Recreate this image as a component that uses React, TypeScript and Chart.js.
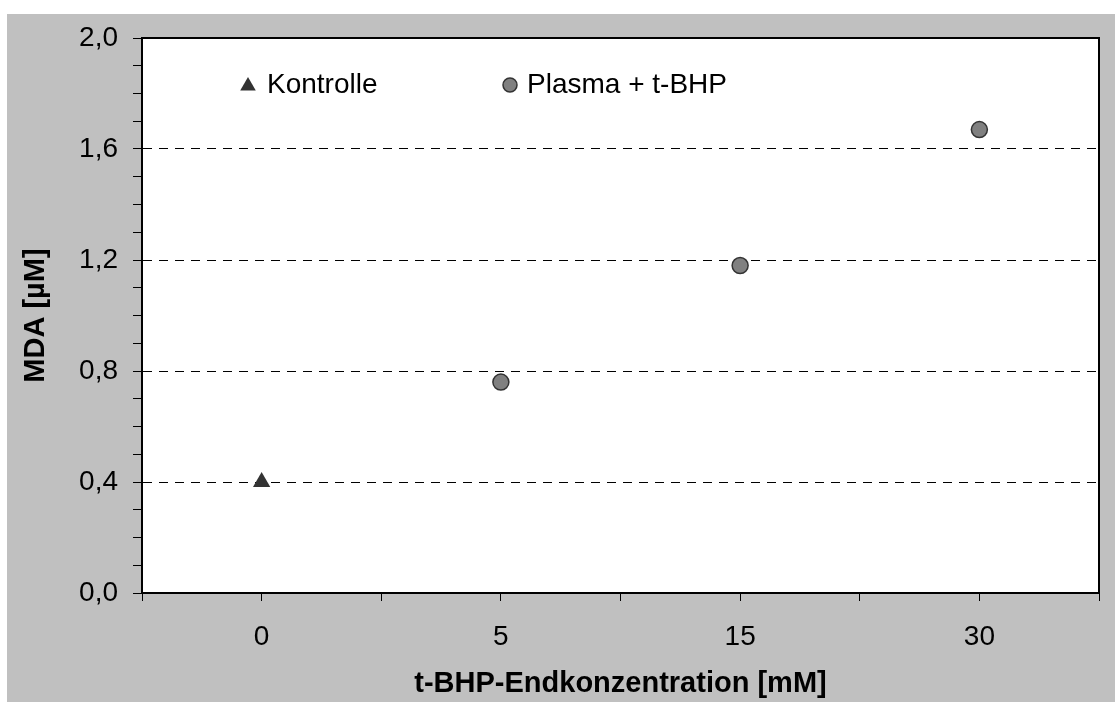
import React, { useEffect, useRef } from 'react';
import { Chart, registerables } from 'chart.js';

Chart.register(...registerables);

// ---- data ----
const categories = ['0', '5', '15', '30'];
const kontrolleX = [0];
const kontrolleValues = [0.4];
const plasmaX = [1, 2, 3];
const plasmaValues = [0.76, 1.18, 1.67];
const yTickLabels = ['0,0', '0,4', '0,8', '1,2', '1,6', '2,0'];
const seriesNames = ['Kontrolle', 'Plasma + t-BHP'];
const xTitle = 't-BHP-Endkonzentration [mM]';
const yTitle = 'MDA [µM]';

const FONT = '"Liberation Sans", Arial, sans-serif';

const bgPlugin = {
  id: 'bgPlugin',
  beforeDraw(chart: any) {
    const { ctx, chartArea, width, height } = chart;
    ctx.save();
    ctx.fillStyle = '#c0c0c0';
    ctx.fillRect(0, 0, width, height);
    ctx.fillStyle = '#ffffff';
    ctx.fillRect(chartArea.left, chartArea.top, chartArea.right - chartArea.left, chartArea.bottom - chartArea.top);
    ctx.restore();
  },
  afterDraw(chart: any) {
    const { ctx, chartArea } = chart;
    ctx.save();
    ctx.strokeStyle = '#000';
    ctx.lineWidth = 2;
    ctx.beginPath();
    ctx.moveTo(chartArea.left, chartArea.top);
    ctx.lineTo(chartArea.right, chartArea.top);
    ctx.lineTo(chartArea.right, chartArea.bottom);
    ctx.stroke();

    // legend inside plot area
    const ds = chart.data.datasets;
    const baseY = chartArea.top + 55;
    ctx.font = '28px ' + FONT;
    ctx.textBaseline = 'alphabetic';
    ctx.textAlign = 'left';

    // triangle marker
    const tx = chartArea.left + 106;
    const ty = chartArea.top + 48;
    const r = 9;
    ctx.fillStyle = ds[0].backgroundColor;
    ctx.beginPath();
    ctx.moveTo(tx, ty - r);
    ctx.lineTo(tx + Math.sin((2 * Math.PI) / 3) * r, ty + r / 2);
    ctx.lineTo(tx - Math.sin((2 * Math.PI) / 3) * r, ty + r / 2);
    ctx.closePath();
    ctx.fill();
    ctx.fillStyle = '#000';
    ctx.fillText(ds[0].label, chartArea.left + 125, baseY);

    // circle marker
    const cx = chartArea.left + 368;
    const cy = chartArea.top + 47;
    ctx.fillStyle = ds[1].backgroundColor;
    ctx.strokeStyle = ds[1].borderColor;
    ctx.lineWidth = 1.5;
    ctx.beginPath();
    ctx.arc(cx, cy, 7, 0, Math.PI * 2);
    ctx.fill();
    ctx.stroke();
    ctx.fillStyle = '#000';
    ctx.fillText(ds[1].label, chartArea.left + 385, baseY);
    ctx.restore();
  },
};

export default function App() {
  const canvasRef = useRef<HTMLCanvasElement | null>(null);

  useEffect(() => {
    if (!canvasRef.current) return;
    const chart = new Chart(canvasRef.current, {
      type: 'scatter',
      data: {
        datasets: [
          {
            label: seriesNames[0],
            data: kontrolleX.map((x, i) => ({ x, y: kontrolleValues[i] })),
            pointStyle: 'triangle',
            pointRadius: 10,
            backgroundColor: '#333333',
            borderColor: '#333333',
            borderWidth: 0,
          },
          {
            label: seriesNames[1],
            data: plasmaX.map((x, i) => ({ x, y: plasmaValues[i] })),
            pointStyle: 'circle',
            pointRadius: 8,
            backgroundColor: '#808080',
            borderColor: '#333333',
            borderWidth: 1.5,
          },
        ],
      },
      options: {
        responsive: false,
        animation: false,
        layout: { padding: { left: 0, top: 24, right: 16, bottom: 0 } },
        plugins: {
          legend: { display: false },
          tooltip: { enabled: false },
        },
        scales: {
          x: {
            type: 'linear',
            min: -0.5,
            max: 3.5,
            offset: false,
            afterFit: (scale: any) => {
              scale.height = 109;
              scale.paddingLeft = 0;
              scale.paddingRight = 0;
            },
            ticks: {
              stepSize: 0.5,
              autoSkip: false,
              maxRotation: 0,
              padding: 19,
              color: '#000',
              font: { family: FONT, size: 28 },
              callback: (v: any) => {
                const n = Number(v);
                return Number.isInteger(n) ? categories[n] ?? '' : '';
              },
            },
            grid: {
              drawOnChartArea: false,
              drawTicks: true,
              tickLength: 8,
              tickColor: '#000',
              tickWidth: 1,
            },
            border: { display: true, color: '#000', width: 2 },
            title: {
              display: true,
              text: xTitle,
              color: '#000',
              font: { family: FONT, size: 29, weight: 'bold' },
              padding: { top: 0, bottom: 1 },
            },
          },
          y: {
            type: 'linear',
            min: 0,
            max: 2,
            afterFit: (scale: any) => {
              scale.width = 135;
              scale.paddingTop = 0;
              scale.paddingBottom = 0;
            },
            ticks: {
              stepSize: 0.1,
              autoSkip: false,
              padding: 15,
              color: '#000',
              font: { family: FONT, size: 28 },
              callback: (v: any) => {
                const idx = Math.round(Number(v) * 10);
                return idx % 4 === 0 ? yTickLabels[idx / 4] : '';
              },
            },
            grid: {
              drawOnChartArea: true,
              drawTicks: true,
              tickLength: 9,
              tickColor: '#000',
              tickWidth: 1,
              lineWidth: 1,
              color: (ctx: any) => {
                const v = ctx.tick ? ctx.tick.value : 0;
                const idx = Math.round(v * 10);
                return idx % 4 === 0 && idx > 0 && idx < 20 ? '#000' : 'rgba(0,0,0,0)';
              },
            },
            border: { display: true, color: '#000', width: 2, dash: [9, 7] },
            title: {
              display: true,
              text: yTitle,
              color: '#000',
              font: { family: FONT, size: 29, weight: 'bold' },
              padding: { top: 12, bottom: 0 },
            },
          },
        },
      },
      plugins: [bgPlugin],
    } as any);
    return () => chart.destroy();
  }, []);

  return (
    <div style={{ position: 'absolute', left: 7, top: 14, width: 1108, height: 688 }}>
      <canvas ref={canvasRef} width={1108} height={688} style={{ display: 'block' }} />
    </div>
  );
}
